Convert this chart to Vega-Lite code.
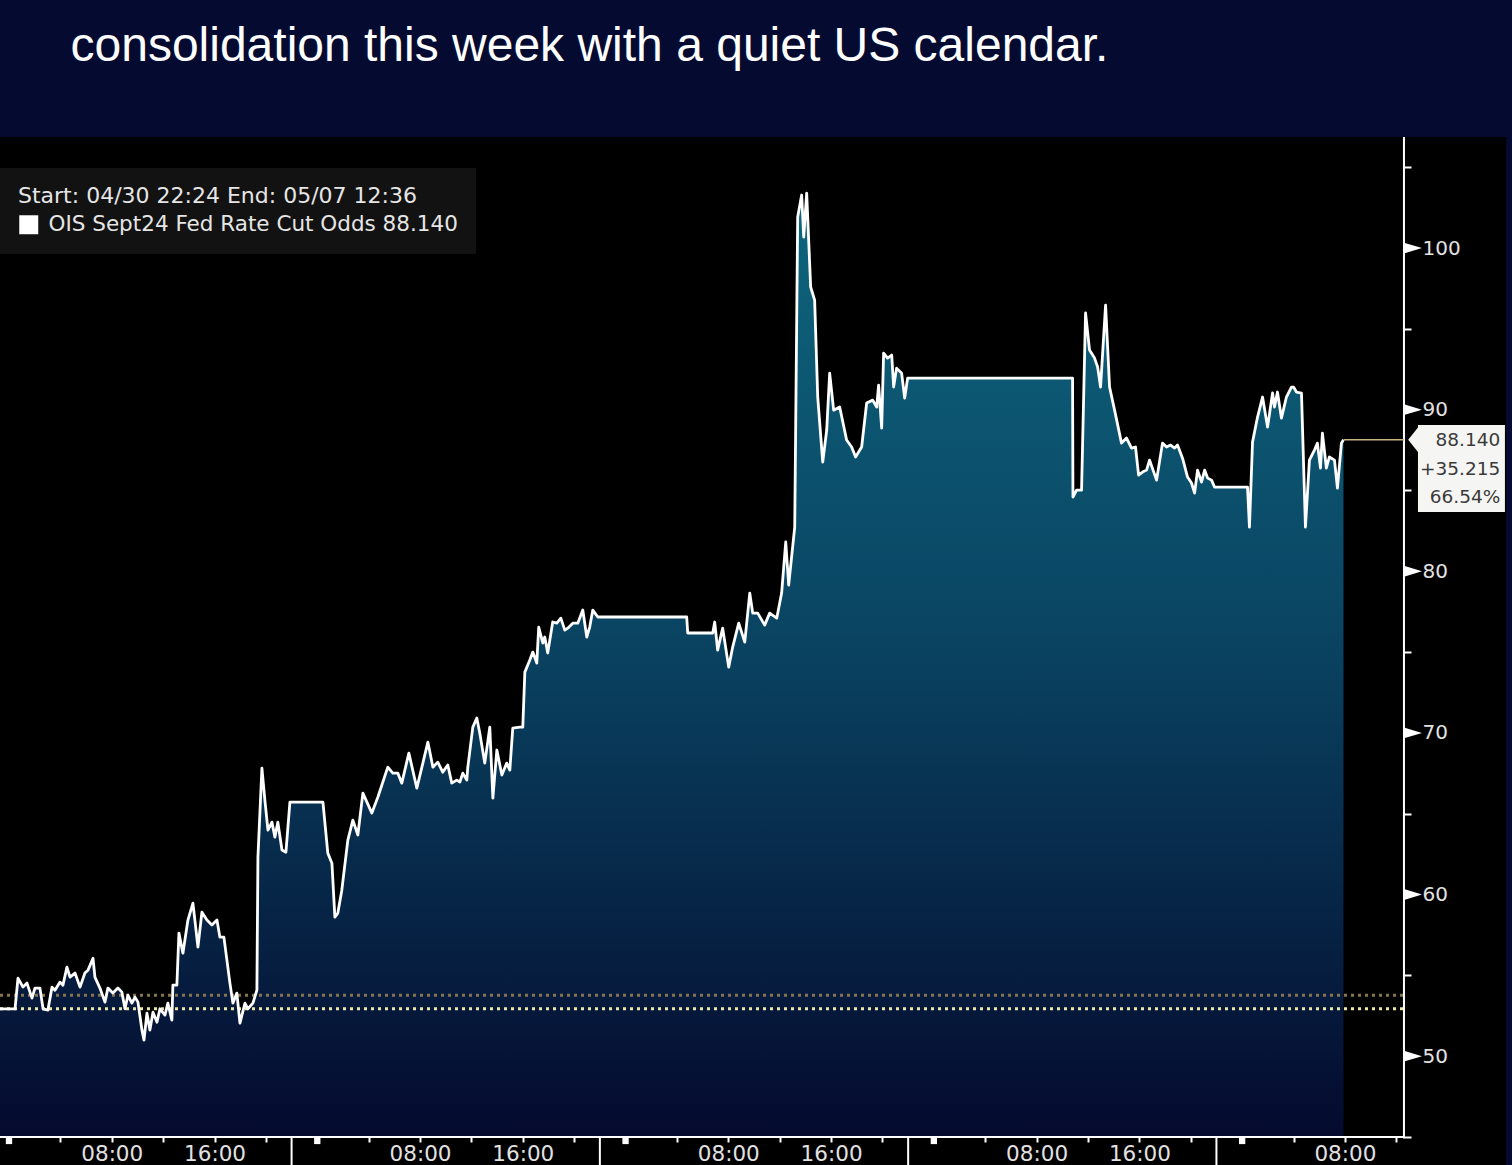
{
  "$schema": "https://vega.github.io/schema/vega-lite/v6.json",
  "width": 1512,
  "height": 1028,
  "autosize": {"type": "none"},
  "padding": {"left": 0, "top": 137, "right": 0, "bottom": 0},
  "background": "#050a30",
  "config": {"view": {"fill": "#000000", "stroke": null}, "axis": {"grid": false}},
  "title": {
    "text": "consolidation this week with a quiet US calendar.",
    "anchor": "start",
    "dx": 72,
    "offset": 27,
    "baseline": "alphabetic",
    "font": "Liberation Sans",
    "fontSize": 48,
    "fontWeight": "normal",
    "color": "#ffffff"
  },
  "datasets": {
    "odds": [
      {"t": -0.70, "v": 52.93}, {"t": 0.47, "v": 52.93}, {"t": 0.70, "v": 54.83}, {"t": 1.09, "v": 54.27},
      {"t": 1.40, "v": 54.52}, {"t": 1.79, "v": 53.59}, {"t": 2.02, "v": 54.21}, {"t": 2.41, "v": 54.21},
      {"t": 2.65, "v": 52.93}, {"t": 3.03, "v": 52.85}, {"t": 3.35, "v": 54.27}, {"t": 3.58, "v": 54.08},
      {"t": 3.97, "v": 54.58}, {"t": 4.20, "v": 54.39}, {"t": 4.51, "v": 55.51}, {"t": 4.75, "v": 54.89},
      {"t": 5.14, "v": 55.14}, {"t": 5.53, "v": 54.27}, {"t": 5.91, "v": 55.14}, {"t": 6.15, "v": 55.32},
      {"t": 6.54, "v": 56.06}, {"t": 6.69, "v": 54.89}, {"t": 7.08, "v": 54.21}, {"t": 7.47, "v": 53.34},
      {"t": 7.70, "v": 54.21}, {"t": 8.09, "v": 53.90}, {"t": 8.48, "v": 54.21}, {"t": 8.79, "v": 53.96},
      {"t": 9.03, "v": 52.93}, {"t": 9.26, "v": 53.77}, {"t": 9.57, "v": 53.28}, {"t": 9.81, "v": 53.65},
      {"t": 10.04, "v": 53.34}, {"t": 10.35, "v": 51.61}, {"t": 10.51, "v": 50.99}, {"t": 10.74, "v": 52.66},
      {"t": 10.97, "v": 51.61}, {"t": 11.21, "v": 52.72}, {"t": 11.52, "v": 52.10}, {"t": 11.75, "v": 52.93},
      {"t": 12.14, "v": 52.54}, {"t": 12.37, "v": 53.28}, {"t": 12.68, "v": 52.23}, {"t": 12.76, "v": 54.39},
      {"t": 13.07, "v": 54.39}, {"t": 13.23, "v": 57.61}, {"t": 13.54, "v": 56.37}, {"t": 13.93, "v": 58.42},
      {"t": 14.32, "v": 59.47}, {"t": 14.71, "v": 56.74}, {"t": 15.02, "v": 58.91}, {"t": 15.41, "v": 58.42},
      {"t": 15.80, "v": 58.11}, {"t": 16.19, "v": 58.42}, {"t": 16.42, "v": 57.36}, {"t": 16.73, "v": 57.36},
      {"t": 17.20, "v": 54.52}, {"t": 17.43, "v": 53.28}, {"t": 17.74, "v": 53.90}, {"t": 17.98, "v": 52.04},
      {"t": 18.37, "v": 53.28}, {"t": 18.60, "v": 52.93}, {"t": 18.99, "v": 53.28}, {"t": 19.30, "v": 54.08},
      {"t": 19.38, "v": 62.31}, {"t": 19.69, "v": 67.82}, {"t": 19.92, "v": 65.84}, {"t": 20.16, "v": 63.98},
      {"t": 20.47, "v": 64.48}, {"t": 20.70, "v": 63.55}, {"t": 20.93, "v": 64.48}, {"t": 21.25, "v": 62.75},
      {"t": 21.56, "v": 62.62}, {"t": 21.87, "v": 65.72}, {"t": 24.44, "v": 65.72}, {"t": 24.82, "v": 62.56},
      {"t": 25.14, "v": 61.94}, {"t": 25.37, "v": 58.60}, {"t": 25.60, "v": 58.85}, {"t": 25.91, "v": 60.27},
      {"t": 26.38, "v": 63.37}, {"t": 26.77, "v": 64.60}, {"t": 27.16, "v": 63.68}, {"t": 27.55, "v": 66.27},
      {"t": 28.25, "v": 65.04}, {"t": 28.72, "v": 66.03}, {"t": 29.49, "v": 67.88}, {"t": 29.88, "v": 67.51},
      {"t": 30.27, "v": 67.51}, {"t": 30.58, "v": 66.89}, {"t": 31.13, "v": 68.75}, {"t": 31.75, "v": 66.58},
      {"t": 32.22, "v": 68.13}, {"t": 32.61, "v": 69.43}, {"t": 33.00, "v": 67.88}, {"t": 33.38, "v": 68.19},
      {"t": 33.77, "v": 67.57}, {"t": 34.16, "v": 68.01}, {"t": 34.47, "v": 66.89}, {"t": 34.86, "v": 67.08},
      {"t": 35.10, "v": 66.96}, {"t": 35.33, "v": 67.51}, {"t": 35.64, "v": 67.08}, {"t": 35.72, "v": 67.88},
      {"t": 36.11, "v": 70.36}, {"t": 36.42, "v": 70.92}, {"t": 36.65, "v": 69.99}, {"t": 37.04, "v": 68.13},
      {"t": 37.43, "v": 70.36}, {"t": 37.67, "v": 65.97}, {"t": 37.98, "v": 68.94}, {"t": 38.37, "v": 67.39},
      {"t": 38.75, "v": 68.13}, {"t": 38.99, "v": 67.70}, {"t": 39.22, "v": 70.30}, {"t": 39.77, "v": 70.36},
      {"t": 40.00, "v": 70.36}, {"t": 40.16, "v": 73.76}, {"t": 40.54, "v": 74.50}, {"t": 40.78, "v": 75.00},
      {"t": 41.09, "v": 74.32}, {"t": 41.24, "v": 76.55}, {"t": 41.56, "v": 75.56}, {"t": 41.71, "v": 75.93},
      {"t": 41.94, "v": 74.94}, {"t": 42.33, "v": 76.86}, {"t": 42.65, "v": 76.79}, {"t": 42.96, "v": 77.10},
      {"t": 43.27, "v": 76.36}, {"t": 43.50, "v": 76.48}, {"t": 43.89, "v": 76.79}, {"t": 44.28, "v": 76.79},
      {"t": 44.67, "v": 77.60}, {"t": 44.98, "v": 75.93}, {"t": 45.21, "v": 76.55}, {"t": 45.45, "v": 77.60},
      {"t": 45.84, "v": 77.17}, {"t": 52.76, "v": 77.17}, {"t": 52.84, "v": 76.18}, {"t": 54.79, "v": 76.18},
      {"t": 54.94, "v": 76.86}, {"t": 55.17, "v": 75.12}, {"t": 55.56, "v": 76.48}, {"t": 56.03, "v": 74.07},
      {"t": 56.34, "v": 75.31}, {"t": 56.81, "v": 76.79}, {"t": 57.28, "v": 75.62}, {"t": 57.67, "v": 78.65},
      {"t": 57.90, "v": 77.41}, {"t": 58.29, "v": 77.41}, {"t": 58.83, "v": 76.67}, {"t": 59.22, "v": 77.41},
      {"t": 59.77, "v": 77.10}, {"t": 60.15, "v": 78.65}, {"t": 60.47, "v": 81.81}, {"t": 60.70, "v": 79.15},
      {"t": 61.17, "v": 82.73}, {"t": 61.40, "v": 101.92}, {"t": 61.71, "v": 103.28}, {"t": 61.87, "v": 100.68},
      {"t": 62.10, "v": 103.40}, {"t": 62.41, "v": 97.59}, {"t": 62.72, "v": 96.78}, {"t": 62.96, "v": 90.78},
      {"t": 63.35, "v": 86.76}, {"t": 63.66, "v": 88.74}, {"t": 63.89, "v": 92.26}, {"t": 64.20, "v": 89.97},
      {"t": 64.67, "v": 90.16}, {"t": 65.21, "v": 88.12}, {"t": 65.60, "v": 87.69}, {"t": 65.91, "v": 87.07},
      {"t": 66.38, "v": 87.69}, {"t": 66.77, "v": 90.41}, {"t": 67.24, "v": 90.59}, {"t": 67.55, "v": 90.16},
      {"t": 67.70, "v": 91.52}, {"t": 67.94, "v": 88.86}, {"t": 68.09, "v": 93.50}, {"t": 68.40, "v": 93.19},
      {"t": 68.72, "v": 93.38}, {"t": 68.87, "v": 91.40}, {"t": 69.10, "v": 92.57}, {"t": 69.49, "v": 92.26},
      {"t": 69.73, "v": 90.72}, {"t": 69.96, "v": 91.95}, {"t": 82.80, "v": 91.95}, {"t": 82.83, "v": 84.59},
      {"t": 83.11, "v": 85.02}, {"t": 83.50, "v": 85.02}, {"t": 83.81, "v": 95.98}, {"t": 84.12, "v": 93.69},
      {"t": 84.51, "v": 93.19}, {"t": 84.75, "v": 92.64}, {"t": 84.98, "v": 91.40}, {"t": 85.37, "v": 96.47},
      {"t": 85.68, "v": 91.40}, {"t": 86.07, "v": 89.97}, {"t": 86.61, "v": 87.93}, {"t": 87.00, "v": 88.24},
      {"t": 87.39, "v": 87.62}, {"t": 87.70, "v": 87.69}, {"t": 87.94, "v": 85.95}, {"t": 88.25, "v": 86.14},
      {"t": 88.56, "v": 86.26}, {"t": 88.79, "v": 86.88}, {"t": 89.34, "v": 85.64}, {"t": 89.80, "v": 87.93},
      {"t": 90.12, "v": 87.69}, {"t": 90.43, "v": 87.81}, {"t": 90.74, "v": 87.62}, {"t": 90.97, "v": 87.81},
      {"t": 91.36, "v": 87.00}, {"t": 91.75, "v": 85.83}, {"t": 92.06, "v": 85.46}, {"t": 92.30, "v": 84.84},
      {"t": 92.53, "v": 86.26}, {"t": 92.84, "v": 85.52}, {"t": 93.08, "v": 86.26}, {"t": 93.31, "v": 85.77},
      {"t": 93.62, "v": 85.64}, {"t": 93.85, "v": 85.21}, {"t": 96.42, "v": 85.21}, {"t": 96.57, "v": 82.73},
      {"t": 96.81, "v": 87.99}, {"t": 97.20, "v": 89.54}, {"t": 97.59, "v": 90.78}, {"t": 97.98, "v": 88.92},
      {"t": 98.37, "v": 91.03}, {"t": 98.52, "v": 90.16}, {"t": 98.75, "v": 91.09}, {"t": 99.06, "v": 89.48},
      {"t": 99.45, "v": 90.78}, {"t": 99.84, "v": 91.40}, {"t": 100.00, "v": 91.40}, {"t": 100.23, "v": 91.09},
      {"t": 100.62, "v": 91.03}, {"t": 100.93, "v": 82.73}, {"t": 101.24, "v": 86.88}, {"t": 101.63, "v": 87.50},
      {"t": 101.86, "v": 87.93}, {"t": 102.10, "v": 86.39}, {"t": 102.25, "v": 88.55}, {"t": 102.56, "v": 86.39},
      {"t": 102.79, "v": 87.07}, {"t": 103.19, "v": 86.88}, {"t": 103.42, "v": 85.15}, {"t": 103.73, "v": 87.93},
      {"t": 103.89, "v": 88.14}
    ],
    "refLevels": [{"level": 53.77, "kind": "avg"}, {"level": 52.925, "kind": "prev"}],
    "last": [{"t": 103.89, "v": 88.14, "price": "88.140", "change": "+35.215", "pct": "66.54%"}],
    "majorTicks": [{"tick": 50}, {"tick": 60}, {"tick": 70}, {"tick": 80}, {"tick": 90}, {"tick": 100}],
    "sessions": [{"start": 22}, {"start": 46}, {"start": 70}, {"start": 94}],
    "midnights": [{"mid": 0}, {"mid": 24}, {"mid": 48}, {"mid": 72}, {"mid": 96}]
  },
  "layer": [
    {
      "data": {"name": "odds"},
      "mark": {
        "type": "area",
        "color": {
          "gradient": "linear",
          "x1": 0, "y1": 0, "x2": 0, "y2": 1,
          "stops": [
            {"offset": 0, "color": "#0e657d"},
            {"offset": 0.45, "color": "#0a4664"},
            {"offset": 1, "color": "#040a2e"}
          ]
        }
      },
      "encoding": {
        "x": {
          "field": "t", "type": "quantitative",
          "scale": {"domain": [-0.7, 117.01], "nice": false, "zero": false},
          "axis": {
            "orient": "bottom", "offset": -28, "title": null, "domain": false,
            "values": [0, 4, 8, 12, 16, 20, 24, 28, 32, 36, 40, 44, 48, 52, 56, 60, 64, 68, 72, 76, 80, 84, 88, 92, 96, 100, 104, 108],
            "labelExpr": "datum.value % 24 == 8 ? '08:00' : (datum.value % 24 == 16 ? '16:00' : '')",
            "labelOverlap": false,
            "labelFont": "DejaVu Sans", "labelFontSize": 21.5, "labelColor": "#e2e2e2", "labelPadding": 1,
            "tickColor": "#ffffff", "tickWidth": 2, "tickSize": 5
          }
        },
        "y": {
          "field": "v", "type": "quantitative",
          "scale": {"domain": [43.264, 106.87], "nice": false, "zero": false},
          "axis": {
            "orient": "right", "offset": -108, "title": null, "domain": false,
            "values": [45, 50, 55, 60, 65, 70, 75, 80, 85, 90, 95, 100, 105],
            "labelExpr": "datum.value % 10 == 0 ? datum.value : ''",
            "labelOverlap": false,
            "labelFont": "DejaVu Sans", "labelFontSize": 20, "labelColor": "#e2e2e2",
            "labelPadding": 11, "labelAlign": "left", "labelBaseline": "middle",
            "tickColor": "#ffffff", "tickWidth": 2, "tickSize": 7
          }
        },
        "y2": {"datum": 45}
      }
    },
    {
      "data": {"name": "refLevels"},
      "mark": {"type": "rule", "strokeWidth": 3, "strokeDash": [3, 4]},
      "encoding": {
        "x": {"datum": -0.7}, "x2": {"datum": 108.6},
        "y": {"field": "level", "type": "quantitative"},
        "color": {"field": "kind", "type": "nominal", "scale": {"domain": ["avg", "prev"], "range": ["#85744f", "#ece7a6"]}, "legend": null}
      }
    },
    {
      "data": {"name": "odds"},
      "mark": {"type": "line", "strokeWidth": 2.8, "strokeJoin": "round", "color": "#ffffff"},
      "encoding": {
        "x": {"field": "t", "type": "quantitative"},
        "y": {"field": "v", "type": "quantitative"},
        "stroke": {
          "datum": "OIS Sept24 Fed Rate Cut Odds 88.140",
          "type": "nominal",
          "scale": {"range": ["#ffffff"]},
          "legend": {
            "orient": "none", "legendX": 0, "legendY": 31,
            "title": "Start: 04/30 22:24 End: 05/07 12:36",
            "titleFont": "DejaVu Sans", "titleFontSize": 22, "titleFontWeight": "normal",
            "titleColor": "#e6e6e6", "titleLimit": 1000, "titlePadding": 6,
            "labelFont": "DejaVu Sans", "labelFontSize": 21.5, "labelColor": "#e6e6e6", "labelLimit": 1000,
            "labelOffset": 9,
            "fillColor": "#121212", "padding": 18,
            "symbolType": "square", "symbolSize": 360,
            "symbolFillColor": "#ffffff", "symbolStrokeColor": "#ffffff", "symbolStrokeWidth": 0,
            "encode": {"symbols": {"update": {"fill": {"value": "#ffffff"}, "fillOpacity": {"value": 1}, "shape": {"value": "square"}}}}
          }
        }
      }
    },
    {
      "data": {"values": [{"from": -0.7, "to": 108.6, "base": 45}]},
      "mark": {"type": "rule", "color": "#ffffff", "strokeWidth": 2},
      "encoding": {"x": {"field": "from", "type": "quantitative"}, "x2": {"field": "to"}, "y": {"field": "base", "type": "quantitative"}}
    },
    {
      "data": {"values": [{"at": 108.6, "low": 44.9, "high": 106.87}]},
      "mark": {"type": "rule", "color": "#ffffff", "strokeWidth": 2},
      "encoding": {"x": {"field": "at", "type": "quantitative"}, "y": {"field": "low", "type": "quantitative"}, "y2": {"field": "high"}}
    },
    {
      "data": {"name": "last"},
      "mark": {"type": "rule", "color": "#c9b47e", "strokeWidth": 1.6},
      "encoding": {"x": {"field": "t", "type": "quantitative"}, "x2": {"datum": 108.6}, "y": {"field": "v", "type": "quantitative"}}
    },
    {
      "data": {"name": "sessions"},
      "mark": {"type": "rule", "color": "#ffffff", "strokeWidth": 2},
      "encoding": {"x": {"field": "start", "type": "quantitative"}, "y": {"datum": 45}, "y2": {"datum": 43.264}}
    },
    {
      "data": {"name": "midnights"},
      "mark": {"type": "point", "shape": "square", "filled": true, "color": "#ffffff", "opacity": 1, "size": 40, "yOffset": 4},
      "encoding": {"x": {"field": "mid", "type": "quantitative"}, "y": {"datum": 45}}
    },
    {
      "data": {"name": "majorTicks"},
      "mark": {"type": "point", "shape": "M-1,-0.6L1,0L-1,0.6Z", "filled": true, "color": "#ffffff", "opacity": 1, "size": 324, "xOffset": 9},
      "encoding": {"x": {"datum": 108.6}, "y": {"field": "tick", "type": "quantitative"}}
    },
    {
      "data": {"name": "last"},
      "mark": {"type": "rect", "color": "#f5f5f3"},
      "encoding": {"x": {"datum": 109.69}, "x2": {"datum": 116.46}, "y": {"datum": 89.05}, "y2": {"datum": 83.66}}
    },
    {
      "data": {"name": "last"},
      "mark": {"type": "point", "shape": "M0.1,-1L-0.7,0L0.1,1Z", "filled": true, "color": "#f5f5f3", "opacity": 1, "size": 784},
      "encoding": {"x": {"datum": 109.69}, "y": {"field": "v", "type": "quantitative"}}
    },
    {
      "data": {"name": "last"},
      "mark": {"type": "text", "align": "right", "baseline": "middle", "font": "DejaVu Sans", "fontSize": 18.5, "color": "#3a3a3a"},
      "encoding": {"x": {"datum": 116.1}, "y": {"field": "v", "type": "quantitative"}, "text": {"field": "price"}}
    },
    {
      "data": {"name": "last"},
      "mark": {"type": "text", "align": "right", "baseline": "middle", "font": "DejaVu Sans", "fontSize": 18.5, "color": "#3a3a3a", "dy": 29},
      "encoding": {"x": {"datum": 116.1}, "y": {"field": "v", "type": "quantitative"}, "text": {"field": "change"}}
    },
    {
      "data": {"name": "last"},
      "mark": {"type": "text", "align": "right", "baseline": "middle", "font": "DejaVu Sans", "fontSize": 18.5, "color": "#3a3a3a", "dy": 57},
      "encoding": {"x": {"datum": 116.1}, "y": {"field": "v", "type": "quantitative"}, "text": {"field": "pct"}}
    },
    {
      "data": {"values": [{"from": 116.55, "to": 117.01, "low": 43.264, "high": 106.87}]},
      "mark": {"type": "rect", "color": "#050a30"},
      "encoding": {"x": {"field": "from", "type": "quantitative"}, "x2": {"field": "to"}, "y": {"field": "low", "type": "quantitative"}, "y2": {"field": "high"}}
    }
  ]
}
